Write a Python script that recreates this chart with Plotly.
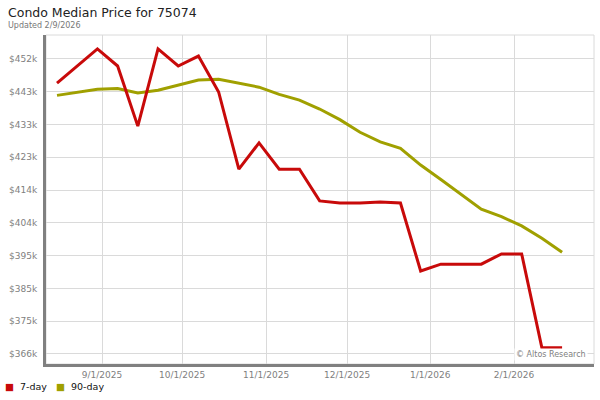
import plotly.graph_objects as go

# ---- data ----
week_dates = ["8/15/2025", "8/22/2025", "8/29/2025", "9/5/2025", "9/12/2025", "9/19/2025",
              "9/26/2025", "10/3/2025", "10/10/2025", "10/17/2025", "10/24/2025", "10/31/2025",
              "11/7/2025", "11/14/2025", "11/21/2025", "11/28/2025", "12/5/2025", "12/12/2025",
              "12/19/2025", "12/26/2025", "1/2/2026", "1/9/2026", "1/16/2026", "1/23/2026",
              "1/30/2026", "2/6/2026"]

price_7day = [445300, 450300, 455300, 450300, 432700, 455300, 450300, 453200, 442700, 420100,
              427800, 420100, 420100, 410800, 410200, 410200, 410500, 410200, 390300, 392300,
              392300, 392300, 395300, 395300, 367800, 367800]

price_90day = [441700, 442500, 443500, 443700, 442400, 443200, 444700, 446200, 446400, 445200,
               444100, 442000, 440300, 437700, 434600, 430900, 428100, 426200, 421300, 417100,
               412700, 408400, 406200, 403500, 399900, 395800]

x_tick_pos = [2.23, 6.19, 10.35, 14.36, 18.47, 22.62]
x_tick_labels = ["9/1/2025", "10/1/2025", "11/1/2025", "12/1/2025", "1/1/2026", "2/1/2026"]

y_tick_vals = [366000, 375600, 385200, 394800, 404400, 414000, 423600, 433200, 442800, 452400]
y_tick_labels = ["$366k", "$375k", "$385k", "$395k", "$404k", "$414k", "$423k", "$433k", "$443k", "$452k"]

series_names = ["7-day", "90-day"]

RED = "#c80a0a"
OLIVE = "#a0a000"
FONT = "DejaVu Sans"

W, H = 600, 400
ML, MR, MT, MB = 46, 6, 35, 36
PW, PH = W - ML - MR, H - MT - MB


def px_x(p):
    return (p - ML) / PW


def px_y(p):
    return (H - MB - p) / PH


x = list(range(len(week_dates)))

fig = go.Figure()
fig.add_trace(go.Scatter(x=x, y=price_90day, mode="lines", name=series_names[1],
                         line=dict(color=OLIVE, width=3), customdata=week_dates,
                         hovertemplate="%{customdata}: $%{y:,.0f}<extra>90-day</extra>"))
fig.add_trace(go.Scatter(x=x, y=price_7day, mode="lines", name=series_names[0],
                         line=dict(color=RED, width=3), customdata=week_dates,
                         hovertemplate="%{customdata}: $%{y:,.0f}<extra>7-day</extra>"))

fig.update_layout(
    width=W, height=H,
    margin=dict(l=ML, r=MR, t=MT, b=MB, autoexpand=False),
    paper_bgcolor="white", plot_bgcolor="white",
    font=dict(family=FONT, size=9, color="#808080"),
    showlegend=False,
    hovermode="closest",
)
fig.update_xaxes(range=[-0.545, 26.58], tickvals=x_tick_pos, ticktext=x_tick_labels,
                 showgrid=True, gridcolor="#dadada", gridwidth=1, zeroline=False,
                 showline=True, linecolor="#808080", linewidth=3, ticks="",
                 automargin=False, ticklabelstandoff=0,
                 tickfont=dict(family=FONT, size=9, color="#808080"))
fig.update_yaxes(range=[363070, 459370], tickvals=y_tick_vals, ticktext=y_tick_labels,
                 showgrid=True, gridcolor="#dadada", gridwidth=1, zeroline=False,
                 showline=True, linecolor="#808080", linewidth=3, ticks="",
                 automargin=False, ticklabelstandoff=4,
                 tickfont=dict(family=FONT, size=9, color="#808080"))

# plot border (top/right)
fig.add_shape(type="rect", xref="paper", yref="paper", x0=0, x1=1, y0=0, y1=1,
              line=dict(color="#dadada", width=1), layer="below")

# title + subtitle
fig.add_annotation(text="Condo Median Price for 75074", xref="paper", yref="paper",
                   x=px_x(6), y=px_y(12), xanchor="left", yanchor="middle", showarrow=False,
                   font=dict(family=FONT, size=12.5, color="#222222"))
fig.add_annotation(text="Updated 2/9/2026", xref="paper", yref="paper",
                   x=px_x(6), y=px_y(25), xanchor="left", yanchor="middle", showarrow=False,
                   font=dict(family=FONT, size=8, color="#777777"))

# legend (square swatches + labels)
legend_colors = [RED, OLIVE]
legend_x = [3, 54]
for name, col, lx in zip(series_names, legend_colors, legend_x):
    fig.add_annotation(text=f"<span style='color:{col}'>■</span>  {name}", xref="paper", yref="paper",
                       x=px_x(lx), y=px_y(386), xanchor="left", yanchor="middle", showarrow=False,
                       font=dict(family=FONT, size=9.5, color="#111111"))

fig.add_annotation(text="© Altos Research", xref="paper", yref="paper", x=px_x(588), y=px_y(354),
                   xanchor="right", yanchor="middle", showarrow=False, bgcolor="white",
                   borderpad=1, font=dict(family=FONT, size=8, color="#808080"))

fig.write_html("out.html", config={"displayModeBar": False},
               post_script="document.body.style.margin='0';")
